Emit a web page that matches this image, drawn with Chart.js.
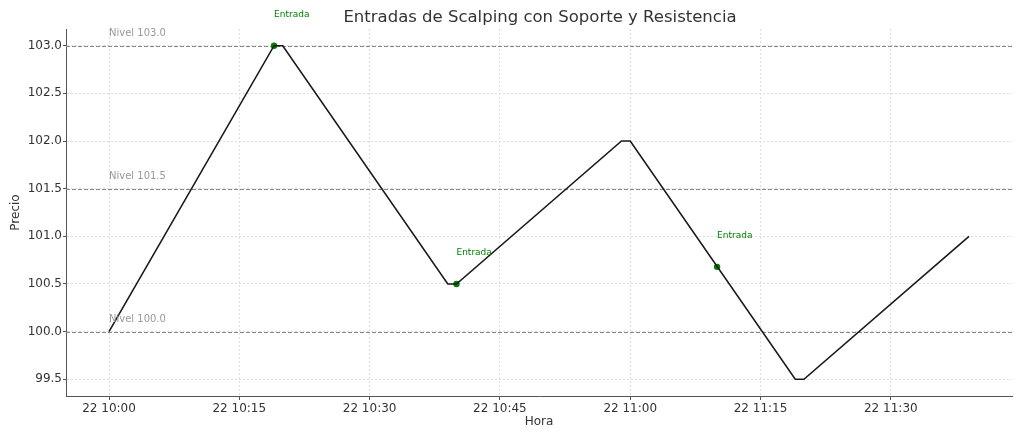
<!DOCTYPE html>
<html>
<head>
<meta charset="utf-8">
<script src="https://cdn.jsdelivr.net/npm/chart.js@4"></script>
<style>
  html, body { margin: 0; padding: 0; background: #fff; }
  #wrap { width: 1024px; height: 439px; }
</style>
</head>
<body>
<div id="wrap"><canvas id="myChart"></canvas></div>
<script>
// minutes after 22 10:00
const minutes = [0, 19, 20, 39, 40, 59, 60, 79, 80, 99];
const prices = [100.0, 103.0, 103.0, 100.5, 100.5, 102.0, 102.0, 99.5, 99.5, 101.0];

const entryMinutes = [19, 40, 70];
const entryPrices = [103.0, 100.5, 100.68];
const entryText = 'Entrada';

const levels = [100.0, 101.5, 103.0];

const tickMinutes = [0, 15, 30, 45, 60, 75, 90];
const tickLabels = ['22 10:00', '22 10:15', '22 10:30', '22 10:45', '22 11:00', '22 11:15', '22 11:30'];
const priceTicks = [99.5, 100.0, 100.5, 101.0, 101.5, 102.0, 102.5, 103.0];

const font = "'DejaVu Sans', sans-serif";

const extras = {
    id: 'extras',
    beforeDatasetsDraw(chart) {
        const ctx = chart.ctx;
        const y = chart.scales.y;
        const area = chart.chartArea;
        ctx.save();
        ctx.strokeStyle = '#888';
        ctx.lineWidth = 1;
        ctx.setLineDash([4, 2]);
        levels.forEach(v => {
            const py = Math.round(y.getPixelForValue(v)) + 0.5;
            ctx.beginPath();
            ctx.moveTo(area.left, py);
            ctx.lineTo(area.right, py);
            ctx.stroke();
        });
        ctx.restore();
    },
    afterDatasetsDraw(chart) {
        const ctx = chart.ctx;
        const x = chart.scales.x, y = chart.scales.y;
        ctx.save();
        ctx.textAlign = 'left';
        ctx.textBaseline = 'alphabetic';
        ctx.font = '10px ' + font;
        ctx.fillStyle = '#999';
        levels.forEach(v => {
            ctx.fillText('Nivel ' + v.toFixed(1), x.getPixelForValue(0), y.getPixelForValue(v + 0.1));
        });
        ctx.font = '9px ' + font;
        ctx.fillStyle = 'green';
        entryMinutes.forEach((m, i) => {
            ctx.fillText(entryText, x.getPixelForValue(m), y.getPixelForValue(entryPrices[i] + 0.3));
        });
        ctx.font = '16.5px ' + font;
        ctx.fillStyle = '#333';
        ctx.textAlign = 'center';
        ctx.textBaseline = 'middle';
        ctx.fillText('Entradas de Scalping con Soporte y Resistencia', 540, 18);
        ctx.restore();
    }
};

const ctx = document.getElementById('myChart');

new Chart(ctx, {
    type: 'line',
    data: {
        datasets: [{
            data: minutes.map((m, i) => ({ x: m, y: prices[i] })),
            borderColor: '#1a1a1a',
            borderWidth: 1.6,
            pointRadius: 0,
            tension: 0
        }, {
            data: entryMinutes.map((m, i) => ({ x: m, y: entryPrices[i] })),
            showLine: false,
            pointRadius: 3.2,
            pointBackgroundColor: 'green',
            pointBorderColor: 'green',
            pointBorderWidth: 0
        }]
    },
    options: {
        responsive: true,
        maintainAspectRatio: false,
        animation: false,
        layout: { padding: { left: 0, right: 12, top: 29, bottom: 0 } },
        plugins: {
            legend: { display: false },
            tooltip: { enabled: false }
        },
        scales: {
            x: {
                type: 'linear',
                min: -4.95,
                max: 103.95,
                afterFit(scale) { scale.height = 43; },
                afterBuildTicks(scale) { scale.ticks = tickMinutes.map(v => ({ value: v })); },
                ticks: {
                    autoSkip: false,
                    maxRotation: 0,
                    padding: 2,
                    color: '#333',
                    font: { family: font, size: 12 },
                    callback(value) { return tickLabels[tickMinutes.indexOf(value)]; }
                },
                grid: { color: '#ddd', lineWidth: 1, tickLength: 4, tickColor: '#555' },
                border: { color: '#555', width: 1, dash: [2, 2] },
                title: { display: true, text: 'Hora', color: '#333', font: { family: font, size: 12 }, padding: { top: 0, bottom: 10 } }
            },
            y: {
                min: 99.325,
                max: 103.175,
                afterFit(scale) { scale.width = 66; },
                afterBuildTicks(scale) { scale.ticks = priceTicks.map(v => ({ value: v })); },
                ticks: {
                    padding: 1,
                    color: '#333',
                    font: { family: font, size: 12 },
                    callback(value) { return value.toFixed(1); }
                },
                grid: { color: '#ddd', lineWidth: 1, tickLength: 3, tickColor: '#555' },
                border: { color: '#555', width: 1, dash: [2, 2] },
                title: { display: true, text: 'Precio', color: '#333', font: { family: font, size: 12 }, padding: { top: 9, bottom: 0 } }
            }
        }
    },
    plugins: [extras]
});
</script>
</body>
</html>
